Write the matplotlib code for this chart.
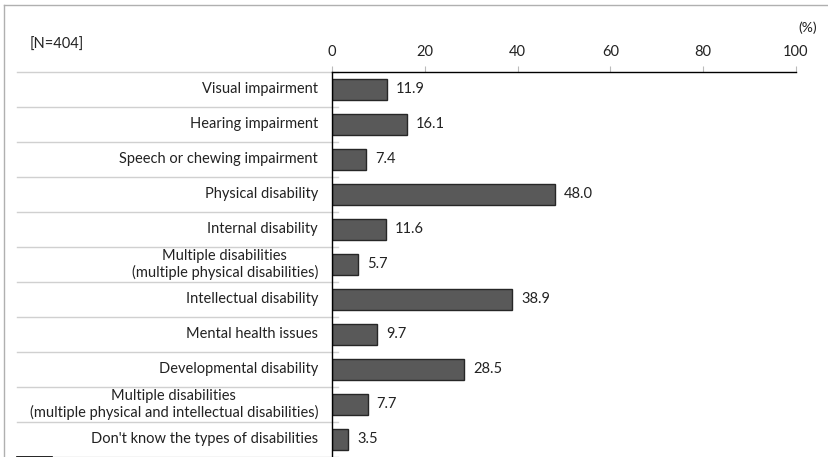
import matplotlib
matplotlib.use("Agg")
import matplotlib.pyplot as plt
import matplotlib.transforms as mtransforms

plt.rcParams["font.family"] = ["Lato", "DejaVu Sans"]

categories = [
    "Visual impairment",
    "Hearing impairment",
    "Speech or chewing impairment",
    "Physical disability",
    "Internal disability",
    "Multiple disabilities\n(multiple physical disabilities)",
    "Intellectual disability",
    "Mental health issues",
    "Developmental disability",
    "Multiple disabilities\n(multiple physical and intellectual disabilities)",
    "Don't know the types of disabilities",
]
values = [11.9, 16.1, 7.4, 48.0, 11.6, 5.7, 38.9, 9.7, 28.5, 7.7, 3.5]
xticks = [0, 20, 40, 60, 80, 100]

fig = plt.figure(figsize=(8.29, 4.57), dpi=100)
ax = fig.add_axes([332 / 829, 0.0, 464 / 829, 1 - 71 / 457 - 0.002])

ypos = list(range(len(categories)))
ax.barh(ypos, values, height=0.6, color="#595959", edgecolor="#262626", linewidth=1.0)
ax.set_xlim(0, 100)
ax.set_ylim(len(categories) - 0.5, -0.5)

for y, v in zip(ypos, values):
    ax.text(v + 1.9, y, f"{v:.1f}", va="center", ha="left", fontsize=10.5, color="#222222")

# category labels and separators on the left
ax.set_yticks([])
trans = mtransforms.blended_transform_factory(ax.transAxes, ax.transData)
for y, lab in zip(ypos, categories):
    ax.text(-0.03, y, lab, transform=trans, ha="right", va="center",
            multialignment="center", fontsize=10.5, color="#222222", linespacing=1.15)
for b in [y - 0.5 for y in ypos] + [len(categories) - 0.5]:
    ax.plot([-0.679, 0.013], [b, b], transform=trans, color="#d0d0d0", lw=1.0, clip_on=False)
ax.plot([-0.679, -0.603], [len(categories) - 0.5] * 2, transform=trans, color="black", lw=1.2, clip_on=False)

# top axis
ax.xaxis.tick_top()
ax.set_xticks(xticks)
ax.set_xticklabels([str(t) for t in xticks])
ax.tick_params(axis="x", direction="out", length=4, color="#bbbbbb", labelsize=10.5,
               labelcolor="#222222", pad=5)
for s in ["right", "bottom"]:
    ax.spines[s].set_visible(False)
ax.spines["top"].set_color("black")
ax.spines["left"].set_color("black")
ax.spines["top"].set_linewidth(1.0)
ax.spines["left"].set_linewidth(1.0)

fig.text(808 / 829, 1 - 28 / 457, "(%)", ha="center", va="center", fontsize=10, color="#222222")
fig.text(30 / 829, 1 - 45 / 457, "[N=404]", ha="left", va="center", fontsize=10.5, color="#222222")

# outer frame (partially visible)
fig.add_artist(plt.Line2D([4 / 829, 1.0], [1 - 5 / 457] * 2, color="#b0b0b0", lw=1.0))
fig.add_artist(plt.Line2D([4 / 829] * 2, [0, 1 - 5 / 457], color="#b0b0b0", lw=1.0))

fig.savefig("out.png", dpi=100)
